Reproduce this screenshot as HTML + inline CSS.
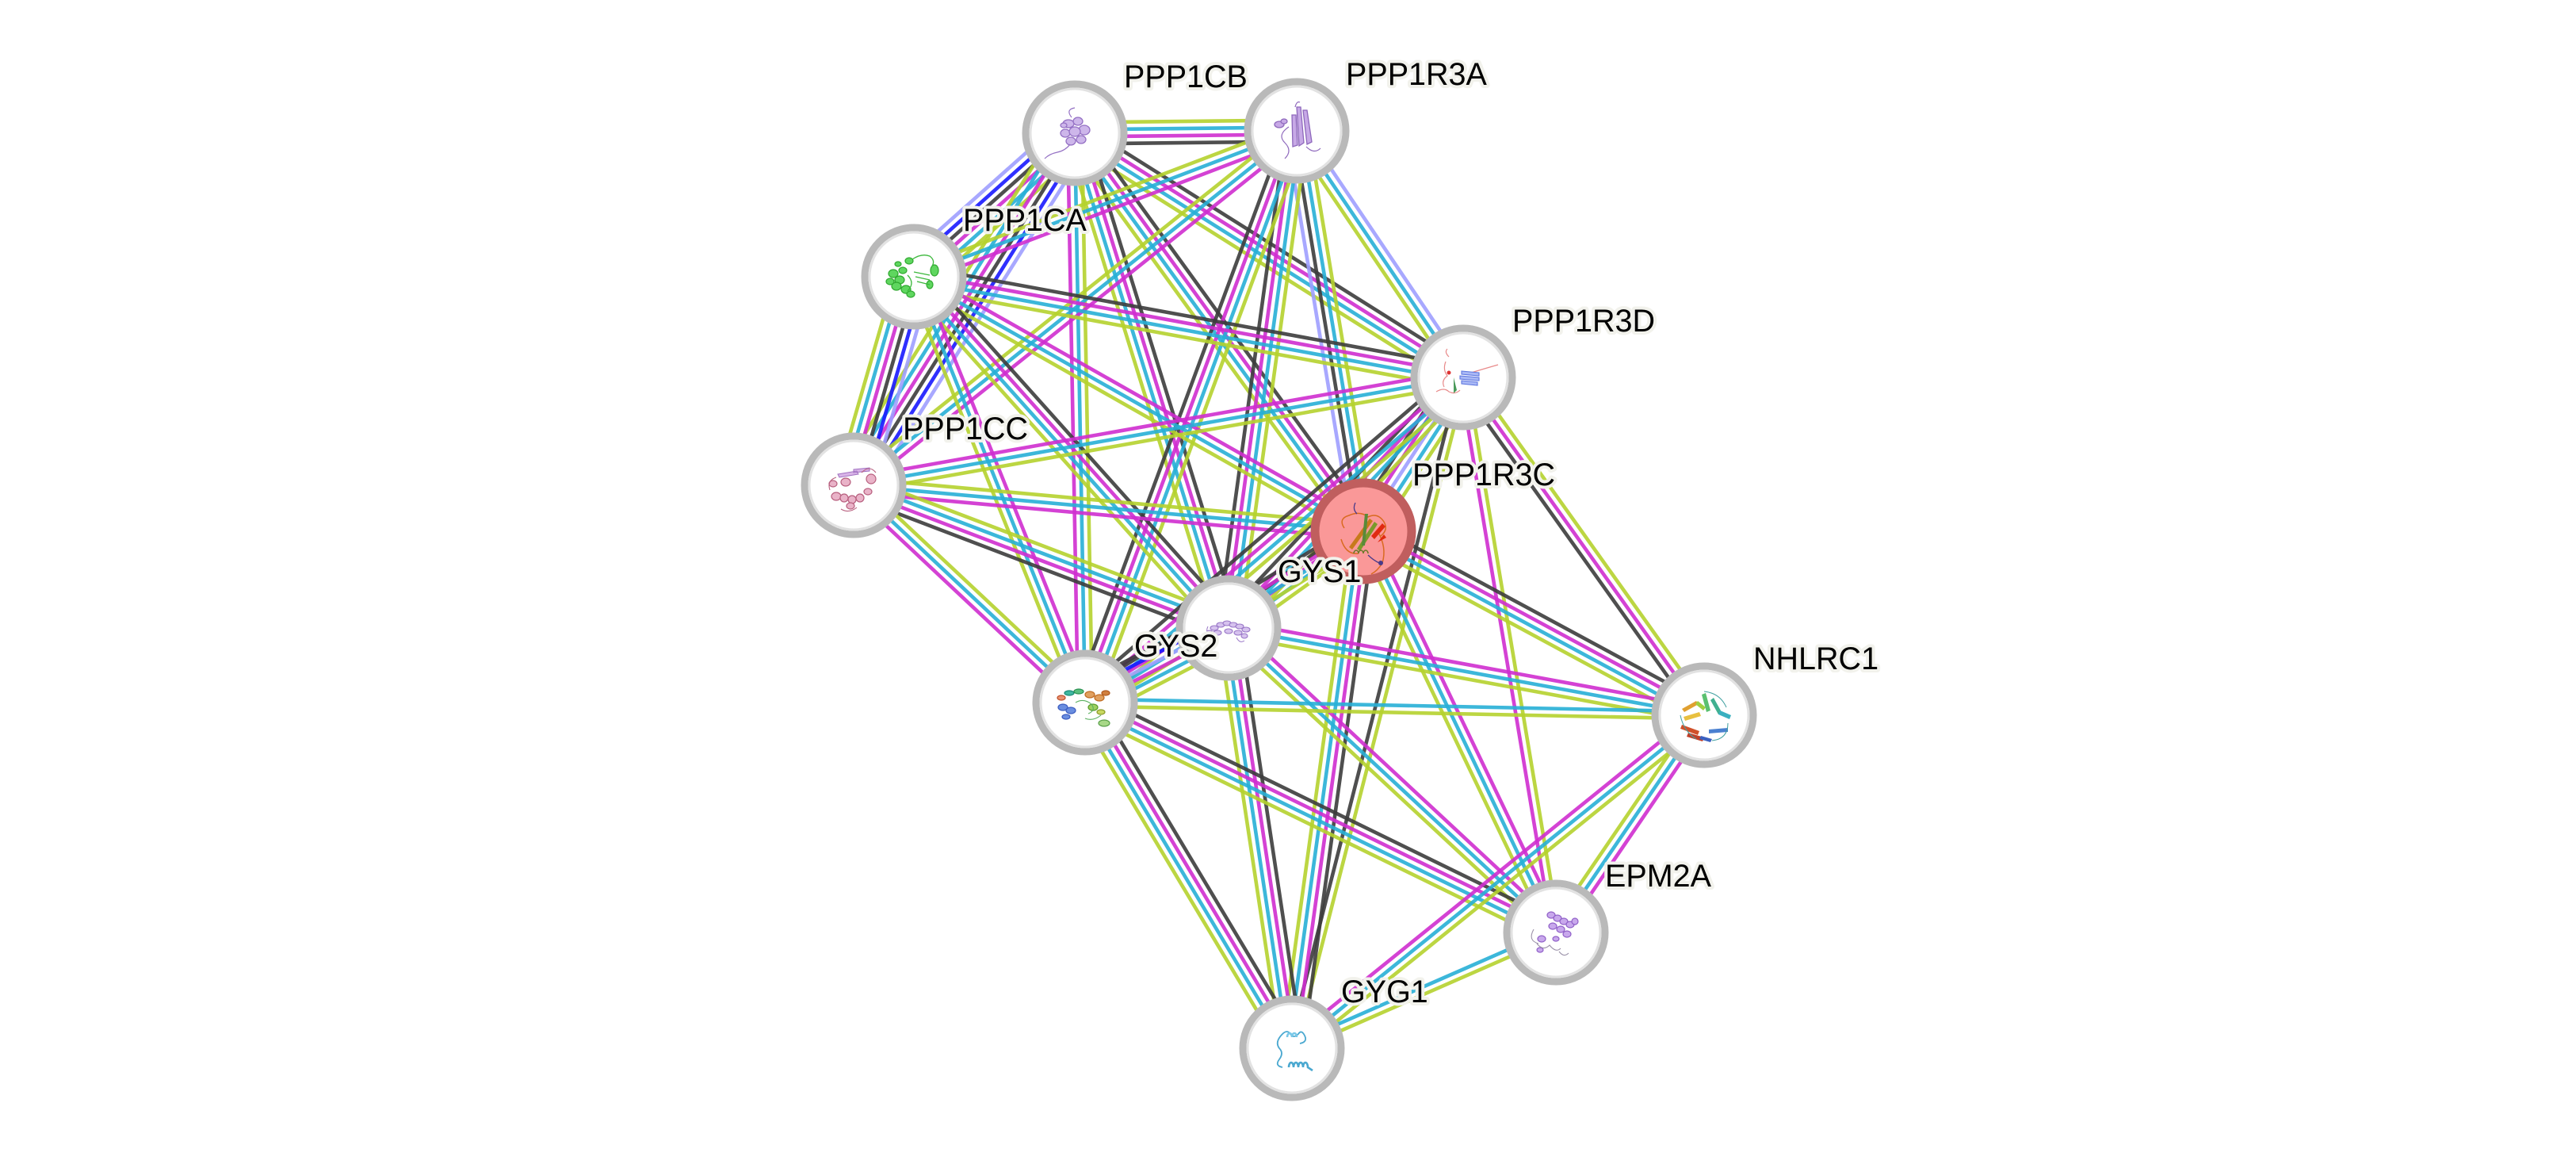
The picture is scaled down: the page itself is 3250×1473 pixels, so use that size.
<!DOCTYPE html>
<html>
<head>
<meta charset="utf-8">
<style>
html,body{margin:0;padding:0;background:#fff;}
svg{display:block;}
.e line{stroke-width:4.6;stroke-opacity:0.9;fill:none;}
.l{stroke:#b5d22e;}
.c{stroke:#27afd6;}
.m{stroke:#cf2ecf;}
.k{stroke:#3c3c3c;}
.b{stroke:#1818ff;}
.v{stroke:#9f9fff;}
.lbl{font-family:"Liberation Sans",Arial,sans-serif;font-size:39.5px;fill:#000;stroke:#f2f2ec;stroke-width:8px;stroke-linejoin:round;paint-order:stroke;}
.ring{fill:#fff;stroke:#b9b9b9;stroke-width:9;}
.inner{fill:none;stroke:#e2e2e2;stroke-width:3;}
</style>
</head>
<body>
<svg width="3250" height="1473" viewBox="0 0 3250 1473" xmlns="http://www.w3.org/2000/svg">
<rect width="3250" height="1473" fill="#fff"/>
<g class="e">
<!-- A-B -->
<g transform="matrix(1 -0.0107 0.0107 1 1356 168)"><line x2="280" y1="-13.5" y2="-13.5" class="l"/><line x2="280" y1="-4.5" y2="-4.5" class="c"/><line x2="280" y1="4.5" y2="4.5" class="m"/><line x2="280" y1="13.5" y2="13.5" class="k"/></g>
<!-- A-C -->
<g transform="matrix(-0.7464 0.6655 -0.6655 -0.7464 1356 168)"><line x2="272" y1="-22.5" y2="-22.5" class="l"/><line x2="272" y1="-13.5" y2="-13.5" class="c"/><line x2="272" y1="-4.5" y2="-4.5" class="m"/><line x2="272" y1="4.5" y2="4.5" class="k"/><line x2="272" y1="13.5" y2="13.5" class="b"/><line x2="272" y1="22.5" y2="22.5" class="v"/></g>
<!-- A-E -->
<g transform="matrix(-0.5321 0.8467 -0.8467 -0.5321 1356 168)"><line x2="524.4" y1="-22.5" y2="-22.5" class="v"/><line x2="524.4" y1="-13.5" y2="-13.5" class="b"/><line x2="524.4" y1="-4.5" y2="-4.5" class="k"/><line x2="524.4" y1="4.5" y2="4.5" class="m"/><line x2="524.4" y1="13.5" y2="13.5" class="c"/><line x2="524.4" y1="22.5" y2="22.5" class="l"/></g>
<!-- C-E -->
<g transform="matrix(-0.2776 0.9607 -0.9607 -0.2776 1153 349)"><line x2="273.8" y1="-22.5" y2="-22.5" class="v"/><line x2="273.8" y1="-13.5" y2="-13.5" class="b"/><line x2="273.8" y1="-4.5" y2="-4.5" class="k"/><line x2="273.8" y1="4.5" y2="4.5" class="m"/><line x2="273.8" y1="13.5" y2="13.5" class="c"/><line x2="273.8" y1="22.5" y2="22.5" class="l"/></g>
<!-- A-D -->
<g transform="matrix(0.8466 0.5322 -0.5322 0.8466 1356 168)"><line x2="578.8" y1="-13.5" y2="-13.5" class="k"/><line x2="578.8" y1="-4.5" y2="-4.5" class="m"/><line x2="578.8" y1="4.5" y2="4.5" class="c"/><line x2="578.8" y1="13.5" y2="13.5" class="l"/></g>
<!-- A-F -->
<g transform="matrix(0.5870 0.8096 -0.8096 0.5870 1356 168)"><line x2="620.1" y1="-13.5" y2="-13.5" class="k"/><line x2="620.1" y1="-4.5" y2="-4.5" class="m"/><line x2="620.1" y1="4.5" y2="4.5" class="c"/><line x2="620.1" y1="13.5" y2="13.5" class="l"/></g>
<!-- A-G -->
<g transform="matrix(0.2969 0.9549 -0.9549 0.2969 1356 168)"><line x2="653.5" y1="-13.5" y2="-13.5" class="k"/><line x2="653.5" y1="-4.5" y2="-4.5" class="m"/><line x2="653.5" y1="4.5" y2="4.5" class="c"/><line x2="653.5" y1="13.5" y2="13.5" class="l"/></g>
<!-- A-H -->
<g transform="matrix(0.0181 0.9998 -0.9998 0.0181 1356 168)"><line x2="718.1" y1="-9" y2="-9" class="l"/><line x2="718.1" y1="0" y2="0" class="c"/><line x2="718.1" y1="9" y2="9" class="m"/></g>
<!-- B-C -->
<g transform="matrix(-0.9345 0.3560 -0.3560 -0.9345 1636 165)"><line x2="516.9" y1="-9" y2="-9" class="m"/><line x2="516.9" y1="0" y2="0" class="c"/><line x2="516.9" y1="9" y2="9" class="l"/></g>
<!-- B-E -->
<g transform="matrix(-0.7810 0.6245 -0.6245 -0.7810 1636 165)"><line x2="715.7" y1="-9" y2="-9" class="m"/><line x2="715.7" y1="0" y2="0" class="c"/><line x2="715.7" y1="9" y2="9" class="l"/></g>
<!-- B-D -->
<g transform="matrix(0.5596 0.8288 -0.8288 0.5596 1636 165)"><line x2="375.3" y1="-9" y2="-9" class="v"/><line x2="375.3" y1="0" y2="0" class="c"/><line x2="375.3" y1="9" y2="9" class="l"/></g>
<!-- B-F -->
<g transform="matrix(0.1641 0.9864 -0.9864 0.1641 1636 165)"><line x2="511.9" y1="-13.5" y2="-13.5" class="l"/><line x2="511.9" y1="-4.5" y2="-4.5" class="c"/><line x2="511.9" y1="4.5" y2="4.5" class="k"/><line x2="511.9" y1="13.5" y2="13.5" class="v"/></g>
<!-- B-G -->
<g transform="matrix(-0.1359 0.9907 -0.9907 -0.1359 1636 165)"><line x2="632.9" y1="-13.5" y2="-13.5" class="l"/><line x2="632.9" y1="-4.5" y2="-4.5" class="c"/><line x2="632.9" y1="4.5" y2="4.5" class="m"/><line x2="632.9" y1="13.5" y2="13.5" class="k"/></g>
<!-- B-H -->
<g transform="matrix(-0.3473 0.9378 -0.9378 -0.3473 1636 165)"><line x2="768.9" y1="-13.5" y2="-13.5" class="l"/><line x2="768.9" y1="-4.5" y2="-4.5" class="c"/><line x2="768.9" y1="4.5" y2="4.5" class="m"/><line x2="768.9" y1="13.5" y2="13.5" class="k"/></g>
<!-- C-D -->
<g transform="matrix(0.9836 0.1803 -0.1803 0.9836 1153 349)"><line x2="704.5" y1="-13.5" y2="-13.5" class="k"/><line x2="704.5" y1="-4.5" y2="-4.5" class="m"/><line x2="704.5" y1="4.5" y2="4.5" class="c"/><line x2="704.5" y1="13.5" y2="13.5" class="l"/></g>
<!-- C-F -->
<g transform="matrix(0.8702 0.4927 -0.4927 0.8702 1153 349)"><line x2="651.6" y1="-9" y2="-9" class="m"/><line x2="651.6" y1="0" y2="0" class="c"/><line x2="651.6" y1="9" y2="9" class="l"/></g>
<!-- C-G -->
<g transform="matrix(0.6674 0.7447 -0.7447 0.6674 1153 349)"><line x2="594.9" y1="-13.5" y2="-13.5" class="k"/><line x2="594.9" y1="-4.5" y2="-4.5" class="m"/><line x2="594.9" y1="4.5" y2="4.5" class="c"/><line x2="594.9" y1="13.5" y2="13.5" class="l"/></g>
<!-- C-H -->
<g transform="matrix(0.3732 0.9278 -0.9278 0.3732 1153 349)"><line x2="578.8" y1="-9" y2="-9" class="m"/><line x2="578.8" y1="0" y2="0" class="c"/><line x2="578.8" y1="9" y2="9" class="l"/></g>
<!-- E-D -->
<g transform="matrix(0.9847 -0.1742 0.1742 0.9847 1077 612)"><line x2="780.9" y1="-9" y2="-9" class="m"/><line x2="780.9" y1="0" y2="0" class="c"/><line x2="780.9" y1="9" y2="9" class="l"/></g>
<!-- E-F -->
<g transform="matrix(0.9960 0.0898 -0.0898 0.9960 1077 612)"><line x2="645.6" y1="-9" y2="-9" class="l"/><line x2="645.6" y1="0" y2="0" class="c"/><line x2="645.6" y1="9" y2="9" class="m"/></g>
<!-- E-G -->
<g transform="matrix(0.9346 0.3557 -0.3557 0.9346 1077 612)"><line x2="506.1" y1="-13.5" y2="-13.5" class="l"/><line x2="506.1" y1="-4.5" y2="-4.5" class="c"/><line x2="506.1" y1="4.5" y2="4.5" class="m"/><line x2="506.1" y1="13.5" y2="13.5" class="k"/></g>
<!-- E-H -->
<g transform="matrix(0.7292 0.6843 -0.6843 0.7292 1077 612)"><line x2="400.4" y1="-9" y2="-9" class="l"/><line x2="400.4" y1="0" y2="0" class="c"/><line x2="400.4" y1="9" y2="9" class="m"/></g>
<!-- D-F -->
<g transform="matrix(-0.5447 0.8386 -0.8386 -0.5447 1846 476)"><line x2="231.3" y1="-18" y2="-18" class="l"/><line x2="231.3" y1="-9" y2="-9" class="c"/><line x2="231.3" y1="0" y2="0" class="v"/><line x2="231.3" y1="9" y2="9" class="m"/><line x2="231.3" y1="18" y2="18" class="k"/></g>
<!-- D-G -->
<g transform="matrix(-0.6836 0.7298 -0.7298 -0.6836 1846 476)"><line x2="433" y1="-13.5" y2="-13.5" class="l"/><line x2="433" y1="-4.5" y2="-4.5" class="c"/><line x2="433" y1="4.5" y2="4.5" class="m"/><line x2="433" y1="13.5" y2="13.5" class="k"/></g>
<!-- D-H -->
<g transform="matrix(-0.7584 0.6518 -0.6518 -0.7584 1846 476)"><line x2="629" y1="-13.5" y2="-13.5" class="l"/><line x2="629" y1="-4.5" y2="-4.5" class="c"/><line x2="629" y1="4.5" y2="4.5" class="m"/><line x2="629" y1="13.5" y2="13.5" class="k"/></g>
<!-- D-I -->
<g transform="matrix(0.5809 0.8140 -0.8140 0.5809 1846 476)"><line x2="523.4" y1="-9" y2="-9" class="l"/><line x2="523.4" y1="0" y2="0" class="m"/><line x2="523.4" y1="9" y2="9" class="k"/></g>
<!-- D-J -->
<g transform="matrix(0.1649 0.9863 -0.9863 0.1649 1846 476)"><line x2="709.7" y1="-4.5" y2="-4.5" class="l"/><line x2="709.7" y1="4.5" y2="4.5" class="m"/></g>
<!-- D-K -->
<g transform="matrix(-0.2474 0.9689 -0.9689 -0.2474 1846 476)"><line x2="873.1" y1="-4.5" y2="-4.5" class="l"/><line x2="873.1" y1="4.5" y2="4.5" class="k"/></g>
<!-- F-G -->
<g transform="matrix(-0.8124 0.5830 -0.5830 -0.8124 1720 670)"><line x2="209.3" y1="-13.5" y2="-13.5" class="l"/><line x2="209.3" y1="-4.5" y2="-4.5" class="c"/><line x2="209.3" y1="4.5" y2="4.5" class="m"/><line x2="209.3" y1="13.5" y2="13.5" class="k"/></g>
<!-- F-H -->
<g transform="matrix(-0.8517 0.5241 -0.5241 -0.8517 1720 670)"><line x2="412.1" y1="-13.5" y2="-13.5" class="l"/><line x2="412.1" y1="-4.5" y2="-4.5" class="c"/><line x2="412.1" y1="4.5" y2="4.5" class="m"/><line x2="412.1" y1="13.5" y2="13.5" class="k"/></g>
<!-- F-I -->
<g transform="matrix(0.8801 0.4748 -0.4748 0.8801 1720 670)"><line x2="488.6" y1="-13.5" y2="-13.5" class="k"/><line x2="488.6" y1="-4.5" y2="-4.5" class="m"/><line x2="488.6" y1="4.5" y2="4.5" class="c"/><line x2="488.6" y1="13.5" y2="13.5" class="l"/></g>
<!-- F-J -->
<g transform="matrix(0.4329 0.9014 -0.9014 0.4329 1720 670)"><line x2="561.3" y1="-9" y2="-9" class="m"/><line x2="561.3" y1="0" y2="0" class="c"/><line x2="561.3" y1="9" y2="9" class="l"/></g>
<!-- F-K -->
<g transform="matrix(-0.1367 0.9906 -0.9906 -0.1367 1720 670)"><line x2="658.2" y1="-13.5" y2="-13.5" class="k"/><line x2="658.2" y1="-4.5" y2="-4.5" class="m"/><line x2="658.2" y1="4.5" y2="4.5" class="c"/><line x2="658.2" y1="13.5" y2="13.5" class="l"/></g>
<!-- G-H -->
<g transform="matrix(-0.8875 0.4609 -0.4609 -0.8875 1550 792)"><line x2="204" y1="-22.5" y2="-22.5" class="l"/><line x2="204" y1="-13.5" y2="-13.5" class="c"/><line x2="204" y1="-4.5" y2="-4.5" class="m"/><line x2="204" y1="4.5" y2="4.5" class="v"/><line x2="204" y1="13.5" y2="13.5" class="b"/><line x2="204" y1="22.5" y2="22.5" class="k"/></g>
<!-- G-I -->
<g transform="matrix(0.9836 0.1803 -0.1803 0.9836 1550 792)"><line x2="610" y1="-9" y2="-9" class="m"/><line x2="610" y1="0" y2="0" class="c"/><line x2="610" y1="9" y2="9" class="l"/></g>
<!-- G-J -->
<g transform="matrix(0.7323 0.6809 -0.6809 0.7323 1550 792)"><line x2="563.9" y1="-9" y2="-9" class="m"/><line x2="563.9" y1="0" y2="0" class="c"/><line x2="563.9" y1="9" y2="9" class="l"/></g>
<!-- G-K -->
<g transform="matrix(0.1493 0.9888 -0.9888 0.1493 1550 792)"><line x2="536" y1="-13.5" y2="-13.5" class="k"/><line x2="536" y1="-4.5" y2="-4.5" class="m"/><line x2="536" y1="4.5" y2="4.5" class="c"/><line x2="536" y1="13.5" y2="13.5" class="l"/></g>
<!-- H-I -->
<g transform="matrix(0.9998 0.0205 -0.0205 0.9998 1369 886)"><line x2="781.2" y1="-4.5" y2="-4.5" class="c"/><line x2="781.2" y1="4.5" y2="4.5" class="l"/></g>
<!-- H-J -->
<g transform="matrix(0.8986 0.4387 -0.4387 0.8986 1369 886)"><line x2="661" y1="-13.5" y2="-13.5" class="k"/><line x2="661" y1="-4.5" y2="-4.5" class="m"/><line x2="661" y1="4.5" y2="4.5" class="c"/><line x2="661" y1="13.5" y2="13.5" class="l"/></g>
<!-- H-K -->
<g transform="matrix(0.5136 0.8580 -0.8580 0.5136 1369 886)"><line x2="508.2" y1="-13.5" y2="-13.5" class="k"/><line x2="508.2" y1="-4.5" y2="-4.5" class="m"/><line x2="508.2" y1="4.5" y2="4.5" class="c"/><line x2="508.2" y1="13.5" y2="13.5" class="l"/></g>
<!-- I-J -->
<g transform="matrix(-0.5637 0.8260 -0.8260 -0.5637 2150 902)"><line x2="331.7" y1="-9" y2="-9" class="m"/><line x2="331.7" y1="0" y2="0" class="c"/><line x2="331.7" y1="9" y2="9" class="l"/></g>
<!-- I-K -->
<g transform="matrix(-0.7779 0.6283 -0.6283 -0.7779 2150 902)"><line x2="668.4" y1="-9" y2="-9" class="l"/><line x2="668.4" y1="0" y2="0" class="c"/><line x2="668.4" y1="9" y2="9" class="m"/></g>
<!-- J-K -->
<g transform="matrix(-0.9158 0.4015 -0.4015 -0.9158 1963 1176)"><line x2="363.6" y1="-4.5" y2="-4.5" class="l"/><line x2="363.6" y1="4.5" y2="4.5" class="c"/></g>
</g>

<!-- Nodes -->
<!-- PPP1CB -->
<g transform="translate(1356 168)">
<circle r="62" class="ring"/><circle r="56" class="inner"/>
<g fill="#cdb6ea" stroke="#9470c4" stroke-width="1.3">
<ellipse cx="-8" cy="-12" rx="7" ry="5"/><ellipse cx="4" cy="-15" rx="6" ry="5"/><ellipse cx="12" cy="-4" rx="7" ry="6"/>
<ellipse cx="-12" cy="0" rx="6" ry="5"/><ellipse cx="0" cy="-2" rx="7" ry="6"/><ellipse cx="8" cy="8" rx="6" ry="5"/>
<ellipse cx="-5" cy="10" rx="6" ry="5"/><ellipse cx="-14" cy="-10" rx="4" ry="3"/>
</g>
<path d="M-6 14 q-6 8 -16 10 q-10 2 -16 8" fill="none" stroke="#9470c4" stroke-width="1.2"/>
<path d="M-4 -20 q-8 -10 4 -12" fill="none" stroke="#9470c4" stroke-width="1.2"/>
</g>
<!-- PPP1R3A -->
<g transform="translate(1636 165)">
<circle r="62" class="ring"/><circle r="56" class="inner"/>
<g fill="#c7a9e6" stroke="#8e68bc" stroke-width="1.3">
<path d="M0 -30 l5 0 l4 45 l-6 4 z"/><path d="M8 -26 l5 0 l6 40 l-6 3 z"/><path d="M-6 -20 l5 0 l2 38 l-6 2 z"/>
<ellipse cx="-22" cy="-8" rx="6" ry="4"/><ellipse cx="-16" cy="-12" rx="4" ry="3"/>
</g>
<path d="M-10 -5 q-15 10 -5 20 q10 10 0 20 M12 20 q10 10 18 2 M-2 -30 q2 -8 6 -6" fill="none" stroke="#8e68bc" stroke-width="1.2"/>
</g>
<!-- PPP1CA -->
<g transform="translate(1153 349)">
<circle r="62" class="ring"/><circle r="56" class="inner"/>
<g fill="#5fd65f" stroke="#2fa82f" stroke-width="1.2">
<ellipse cx="-26" cy="-4" rx="6" ry="5"/><ellipse cx="-18" cy="4" rx="6" ry="5"/><ellipse cx="-22" cy="12" rx="6" ry="5"/>
<ellipse cx="-10" cy="16" rx="6" ry="5"/><ellipse cx="-30" cy="6" rx="5" ry="4"/><ellipse cx="-14" cy="-8" rx="5" ry="4"/>
<ellipse cx="-4" cy="22" rx="5" ry="4"/><ellipse cx="26" cy="-8" rx="5" ry="7"/><ellipse cx="20" cy="10" rx="4" ry="5"/>
<ellipse cx="-20" cy="-16" rx="4" ry="3"/><ellipse cx="-6" cy="-20" rx="5" ry="4"/>
</g>
<path d="M-2 -22 q12 -8 22 -4 q8 6 2 14 M0 -6 l20 4 M2 0 l18 4 M4 6 l16 4 M-8 -2 q10 10 0 20" fill="none" stroke="#3cb83c" stroke-width="1.3"/>
</g>
<!-- PPP1R3D -->
<g transform="translate(1846 476)">
<circle r="62" class="ring"/><circle r="56" class="inner"/>
<path d="M-34 18 q10 -6 16 0 q8 4 14 -2 M-18 -26 q-6 -6 -2 -10 M-22 -20 q-4 10 2 18 q-8 6 -4 14 M10 -6 q20 -6 34 -10" fill="none" stroke="#e88a8a" stroke-width="1.2"/>
<g fill="#a9b8f5" stroke="#5f77e0" stroke-width="1.1"><path d="M-2 -8 l22 2 l0 4 l-22 -2 z"/><path d="M-4 -2 l24 2 l0 4 l-24 -2 z"/><path d="M-2 4 l20 2 l0 4 l-20 -2 z"/></g>
<path d="M-12 0 l4 16 l-4 4 z" fill="#4a9a5a"/>
<circle cx="-18" cy="-6" r="2.5" fill="#d33"/>
</g>
<!-- PPP1CC -->
<g transform="translate(1077 612)">
<circle r="62" class="ring"/><circle r="56" class="inner"/>
<g fill="#e9b3c8" stroke="#b8607f" stroke-width="1.2">
<ellipse cx="-22" cy="14" rx="6" ry="5"/><ellipse cx="-12" cy="16" rx="5" ry="5"/><ellipse cx="-2" cy="18" rx="5" ry="5"/><ellipse cx="8" cy="16" rx="5" ry="5"/>
<ellipse cx="-26" cy="-2" rx="5" ry="4"/><ellipse cx="-10" cy="-4" rx="6" ry="5"/><ellipse cx="22" cy="-8" rx="6" ry="6"/>
<ellipse cx="18" cy="8" rx="5" ry="4"/><ellipse cx="-4" cy="26" rx="5" ry="4"/>
</g>
<path d="M-20 -14 l24 -4 l2 4 l-24 4 z M0 -20 l20 -2 l0 4 l-20 2 z" fill="#d9b5e8" stroke="#a070c0" stroke-width="1"/>
<path d="M-30 6 q-4 -12 8 -16 M10 -16 q10 -10 18 0 M-16 30 q10 6 20 -2" fill="none" stroke="#b8607f" stroke-width="1.1"/>
</g>
<!-- PPP1R3C (query, red) -->
<g transform="translate(1720 670)">
<circle r="61" fill="#fa9898" stroke="#c05e5e" stroke-width="11"/>
<path d="M-24 -4 q-8 -12 6 -16 q14 -6 24 2 q12 -6 20 6 q6 10 -4 18 M-28 10 q6 20 22 18 M18 0 q12 20 6 40 q-6 10 -14 14" fill="none" stroke="#d96a20" stroke-width="1.5"/>
<path d="M-18 20 l26 -36 l4 3 l-26 36 z" fill="#c77a1c"/>
<path d="M-8 22 l22 -34 l4 3 l-22 34 z" fill="#7a9a2a"/>
<path d="M-2 18 l4 -40 l4 0 l-4 40 z" fill="#5a8a3a"/>
<path d="M10 6 l14 -16 l4 4 l-14 16 z M18 14 l8 -10 l3 4 z" fill="#e02a10"/>
<path d="M-8 -22 q-6 -6 -2 -14 M6 30 q6 6 14 10" fill="none" stroke="#4a3a8a" stroke-width="1.3"/>
<path d="M-12 28 a3 4 0 1 1 6 0 a3 4 0 1 1 6 0 a3 4 0 1 1 6 0" fill="none" stroke="#6a7a2a" stroke-width="1.5"/>
<circle cx="22" cy="40" r="3" fill="#4a3a8a"/>
</g>
<!-- GYS1 -->
<g transform="translate(1550 792)">
<circle r="62" class="ring"/><circle r="56" class="inner"/>
<g fill="#d6c2ee" stroke="#9a78c8" stroke-width="1.1">
<ellipse cx="-18" cy="0" rx="5" ry="3"/><ellipse cx="-10" cy="-4" rx="5" ry="3"/><ellipse cx="-2" cy="-6" rx="5" ry="3"/><ellipse cx="6" cy="-4" rx="5" ry="3"/>
<ellipse cx="14" cy="-2" rx="5" ry="3"/><ellipse cx="22" cy="2" rx="5" ry="3"/><ellipse cx="-14" cy="6" rx="5" ry="3"/><ellipse cx="0" cy="4" rx="5" ry="3"/>
<ellipse cx="12" cy="6" rx="5" ry="3"/><ellipse cx="20" cy="10" rx="4" ry="3"/><ellipse cx="-24" cy="6" rx="4" ry="3"/>
</g>
<path d="M-26 -2 q-4 8 4 12 M10 12 q4 8 10 4" fill="none" stroke="#9a78c8" stroke-width="1"/>
</g>
<!-- GYS2 -->
<g transform="translate(1369 886)">
<circle r="62" class="ring"/><circle r="56" class="inner"/>
<g stroke-width="1.2">
<ellipse cx="-30" cy="-6" rx="5" ry="3" fill="#e89070" stroke="#c0502a"/><ellipse cx="-20" cy="-12" rx="6" ry="3" fill="#3fb7a0" stroke="#1a8a78"/>
<ellipse cx="-8" cy="-14" rx="6" ry="3" fill="#5ac080" stroke="#2a9050"/><ellipse cx="6" cy="-10" rx="6" ry="4" fill="#e0a060" stroke="#c06a20"/>
<ellipse cx="18" cy="-6" rx="6" ry="4" fill="#e0a060" stroke="#c06a20"/><ellipse cx="26" cy="-12" rx="5" ry="3" fill="#d08040" stroke="#b05a20"/>
<ellipse cx="-28" cy="6" rx="6" ry="4" fill="#6a8ee0" stroke="#3a5cc0"/><ellipse cx="-18" cy="10" rx="6" ry="4" fill="#6a8ee0" stroke="#3a5cc0"/>
<ellipse cx="-24" cy="18" rx="5" ry="3" fill="#6a8ee0" stroke="#3a5cc0"/><ellipse cx="10" cy="6" rx="6" ry="4" fill="#9ed060" stroke="#5a9a2a"/>
<ellipse cx="20" cy="12" rx="5" ry="3" fill="#c8d860" stroke="#8a9a2a"/><ellipse cx="24" cy="26" rx="7" ry="4" fill="#a8d888" stroke="#5aa04a"/>
</g>
<path d="M-12 0 q10 -6 20 2 q6 8 -4 12 M0 20 q10 4 20 -4" fill="none" stroke="#5ab060" stroke-width="1.1"/>
</g>
<!-- NHLRC1 -->
<g transform="translate(2150 902)">
<circle r="62" class="ring"/><circle r="56" class="inner"/>
<path d="M-28 -8 l18 -10 l3 4 l-18 10 z" fill="#e0a030"/><path d="M-26 2 l20 -6 l2 5 l-20 6 z" fill="#e8c040"/>
<path d="M-28 12 l22 8 l-2 5 l-22 -8 z" fill="#d0502a"/><path d="M-20 22 l20 6 l-2 5 l-20 -6 z" fill="#c0402a"/>
<path d="M2 -28 l6 22 l-5 2 l-6 -22 z" fill="#5ac070"/><path d="M12 -22 l10 18 l-4 3 l-10 -18 z" fill="#40b090"/>
<path d="M20 -6 l14 6 l-2 5 l-14 -6 z" fill="#3ab0c0"/><path d="M6 18 l24 -2 l0 5 l-24 2 z" fill="#4a80d0"/>
<path d="M-4 26 l14 4 l-2 4 l-14 -4 z" fill="#3a60c0"/><path d="M-8 -18 l10 8 l-3 4 l-10 -8 z" fill="#a0d040"/>
<path d="M-30 0 q4 20 20 30 M0 -30 q20 2 28 20 M30 10 q0 20 -20 22" fill="none" stroke="#40a0a0" stroke-width="1"/>
</g>
<!-- EPM2A -->
<g transform="translate(1963 1176)">
<circle r="62" class="ring"/><circle r="56" class="inner"/>
<g fill="#c8a8ec" stroke="#9060c8" stroke-width="1.2">
<ellipse cx="-6" cy="-22" rx="5" ry="4"/><ellipse cx="2" cy="-18" rx="5" ry="4"/><ellipse cx="10" cy="-14" rx="5" ry="4"/><ellipse cx="18" cy="-10" rx="5" ry="4"/>
<ellipse cx="-4" cy="-8" rx="5" ry="4"/><ellipse cx="6" cy="-4" rx="5" ry="4"/><ellipse cx="14" cy="2" rx="5" ry="4"/><ellipse cx="24" cy="-14" rx="4" ry="4"/>
<ellipse cx="-18" cy="8" rx="5" ry="4"/><ellipse cx="0" cy="8" rx="4" ry="3"/><ellipse cx="-20" cy="22" rx="4" ry="3"/>
</g>
<path d="M-28 -4 q-8 14 6 18 M-24 14 q8 10 16 2 q8 10 14 4 M4 24 q6 8 12 2" fill="none" stroke="#9a90a8" stroke-width="1.1"/>
</g>
<!-- GYG1 -->
<g transform="translate(1630 1322)">
<circle r="62" class="ring"/><circle r="56" class="inner"/>
<path d="M-12 -18 q6 -6 10 0 q4 6 10 0 q4 -6 8 2 q4 8 -6 10 M-12 -18 q-10 10 -4 18 q6 6 0 14 q-6 8 4 10" fill="none" stroke="#4aa8d0" stroke-width="1.8"/>
<path d="M-4 24 a3 6 0 1 1 6 0 a3 6 0 1 1 6 0 a3 6 0 1 1 6 0 a3 6 0 1 1 6 0 l6 4" fill="none" stroke="#4aa8d0" stroke-width="2.6"/>
<path d="M-6 -14 a3 5 0 1 1 6 0 a3 5 0 1 1 6 0" fill="none" stroke="#7ac8e8" stroke-width="2.6"/>
</g>

<!-- Labels -->
<text class="lbl" x="1418" y="110">PPP1CB</text>
<text class="lbl" x="1698" y="107">PPP1R3A</text>
<text class="lbl" x="1215" y="291">PPP1CA</text>
<text class="lbl" x="1908" y="418">PPP1R3D</text>
<text class="lbl" x="1139" y="554">PPP1CC</text>
<text class="lbl" x="1782" y="612">PPP1R3C</text>
<text class="lbl" x="1612" y="734">GYS1</text>
<text class="lbl" x="1431" y="828">GYS2</text>
<text class="lbl" x="2212" y="844">NHLRC1</text>
<text class="lbl" x="2025" y="1118">EPM2A</text>
<text class="lbl" x="1692" y="1264">GYG1</text>
</svg>
</body>
</html>
